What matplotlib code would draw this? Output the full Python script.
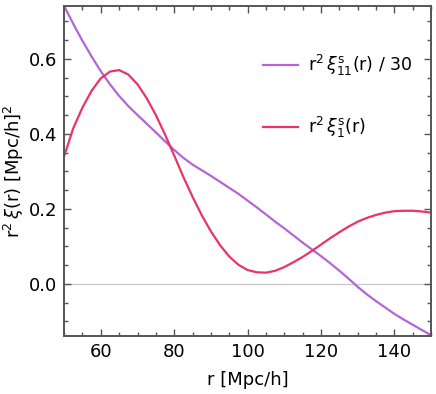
import numpy as np
import matplotlib
matplotlib.use("Agg")
import matplotlib.pyplot as plt
from matplotlib.ticker import MultipleLocator

r = np.arange(50, 150.1, 2.5)

xi11_over30 = [0.741, 0.693, 0.648, 0.606, 0.567, 0.532, 0.501, 0.474, 0.450, 0.427,
               0.404, 0.380, 0.357, 0.336, 0.318, 0.303, 0.288, 0.272, 0.256, 0.240,
               0.222, 0.204, 0.185, 0.166, 0.148, 0.129, 0.110, 0.092, 0.074, 0.055,
               0.035, 0.014, -0.008, -0.028, -0.046, -0.063, -0.080, -0.095, -0.109,
               -0.123, -0.137]

xi1 = [0.340, 0.415, 0.470, 0.515, 0.548, 0.566, 0.570, 0.558, 0.532, 0.495,
       0.450, 0.398, 0.342, 0.285, 0.232, 0.183, 0.140, 0.103, 0.073, 0.051,
       0.037, 0.031, 0.030, 0.035, 0.045, 0.058, 0.072, 0.088, 0.105, 0.122,
       0.138, 0.153, 0.166, 0.176, 0.184, 0.190, 0.194, 0.195, 0.195, 0.193,
       0.190]

purple = "#b366d6"
red = "#ea3468"

fig = plt.figure(figsize=(4.36, 3.94), dpi=100)
ax = fig.add_axes([0.147, 0.147, 0.842, 0.838])

ax.axhline(0, color="#c8c8c8", lw=0.9, zorder=1)
ax.plot(r, xi11_over30, color=purple, lw=1.6, label=r"r$^{2}\,\xi^{\rm s}_{11}$(r) / 30")
ax.plot(r, xi1, color=red, lw=1.6, label=r"r$^{2}\,\xi^{\rm s}_{1}$(r)")

ax.set_xlim(50, 150)
ax.set_ylim(-0.139, 0.741)
ax.xaxis.set_major_locator(MultipleLocator(20))
ax.xaxis.set_minor_locator(MultipleLocator(5))
ax.yaxis.set_major_locator(MultipleLocator(0.2))
ax.yaxis.set_minor_locator(MultipleLocator(0.05))
ax.tick_params(which="both", direction="in", top=True, right=True,
               labelsize=13, color="#555555", pad=5)
ax.tick_params(which="major", length=5, width=1)
ax.tick_params(which="minor", length=3, width=1)
for s in ax.spines.values():
    s.set_color("#555555")
    s.set_linewidth(1.4)

ax.set_xlabel("r [Mpc/h]", fontsize=13, labelpad=7)
ax.set_ylabel(r"r$^{2}\,\xi$(r) [Mpc/h]$^{2}$", fontsize=13, labelpad=2)

ax.legend(loc="upper left", bbox_to_anchor=(0.50, 0.905), frameon=False,
          fontsize=12.5, handlelength=2.0, handletextpad=0.55, labelspacing=2.15)

fig.savefig("out.png", dpi=100)
